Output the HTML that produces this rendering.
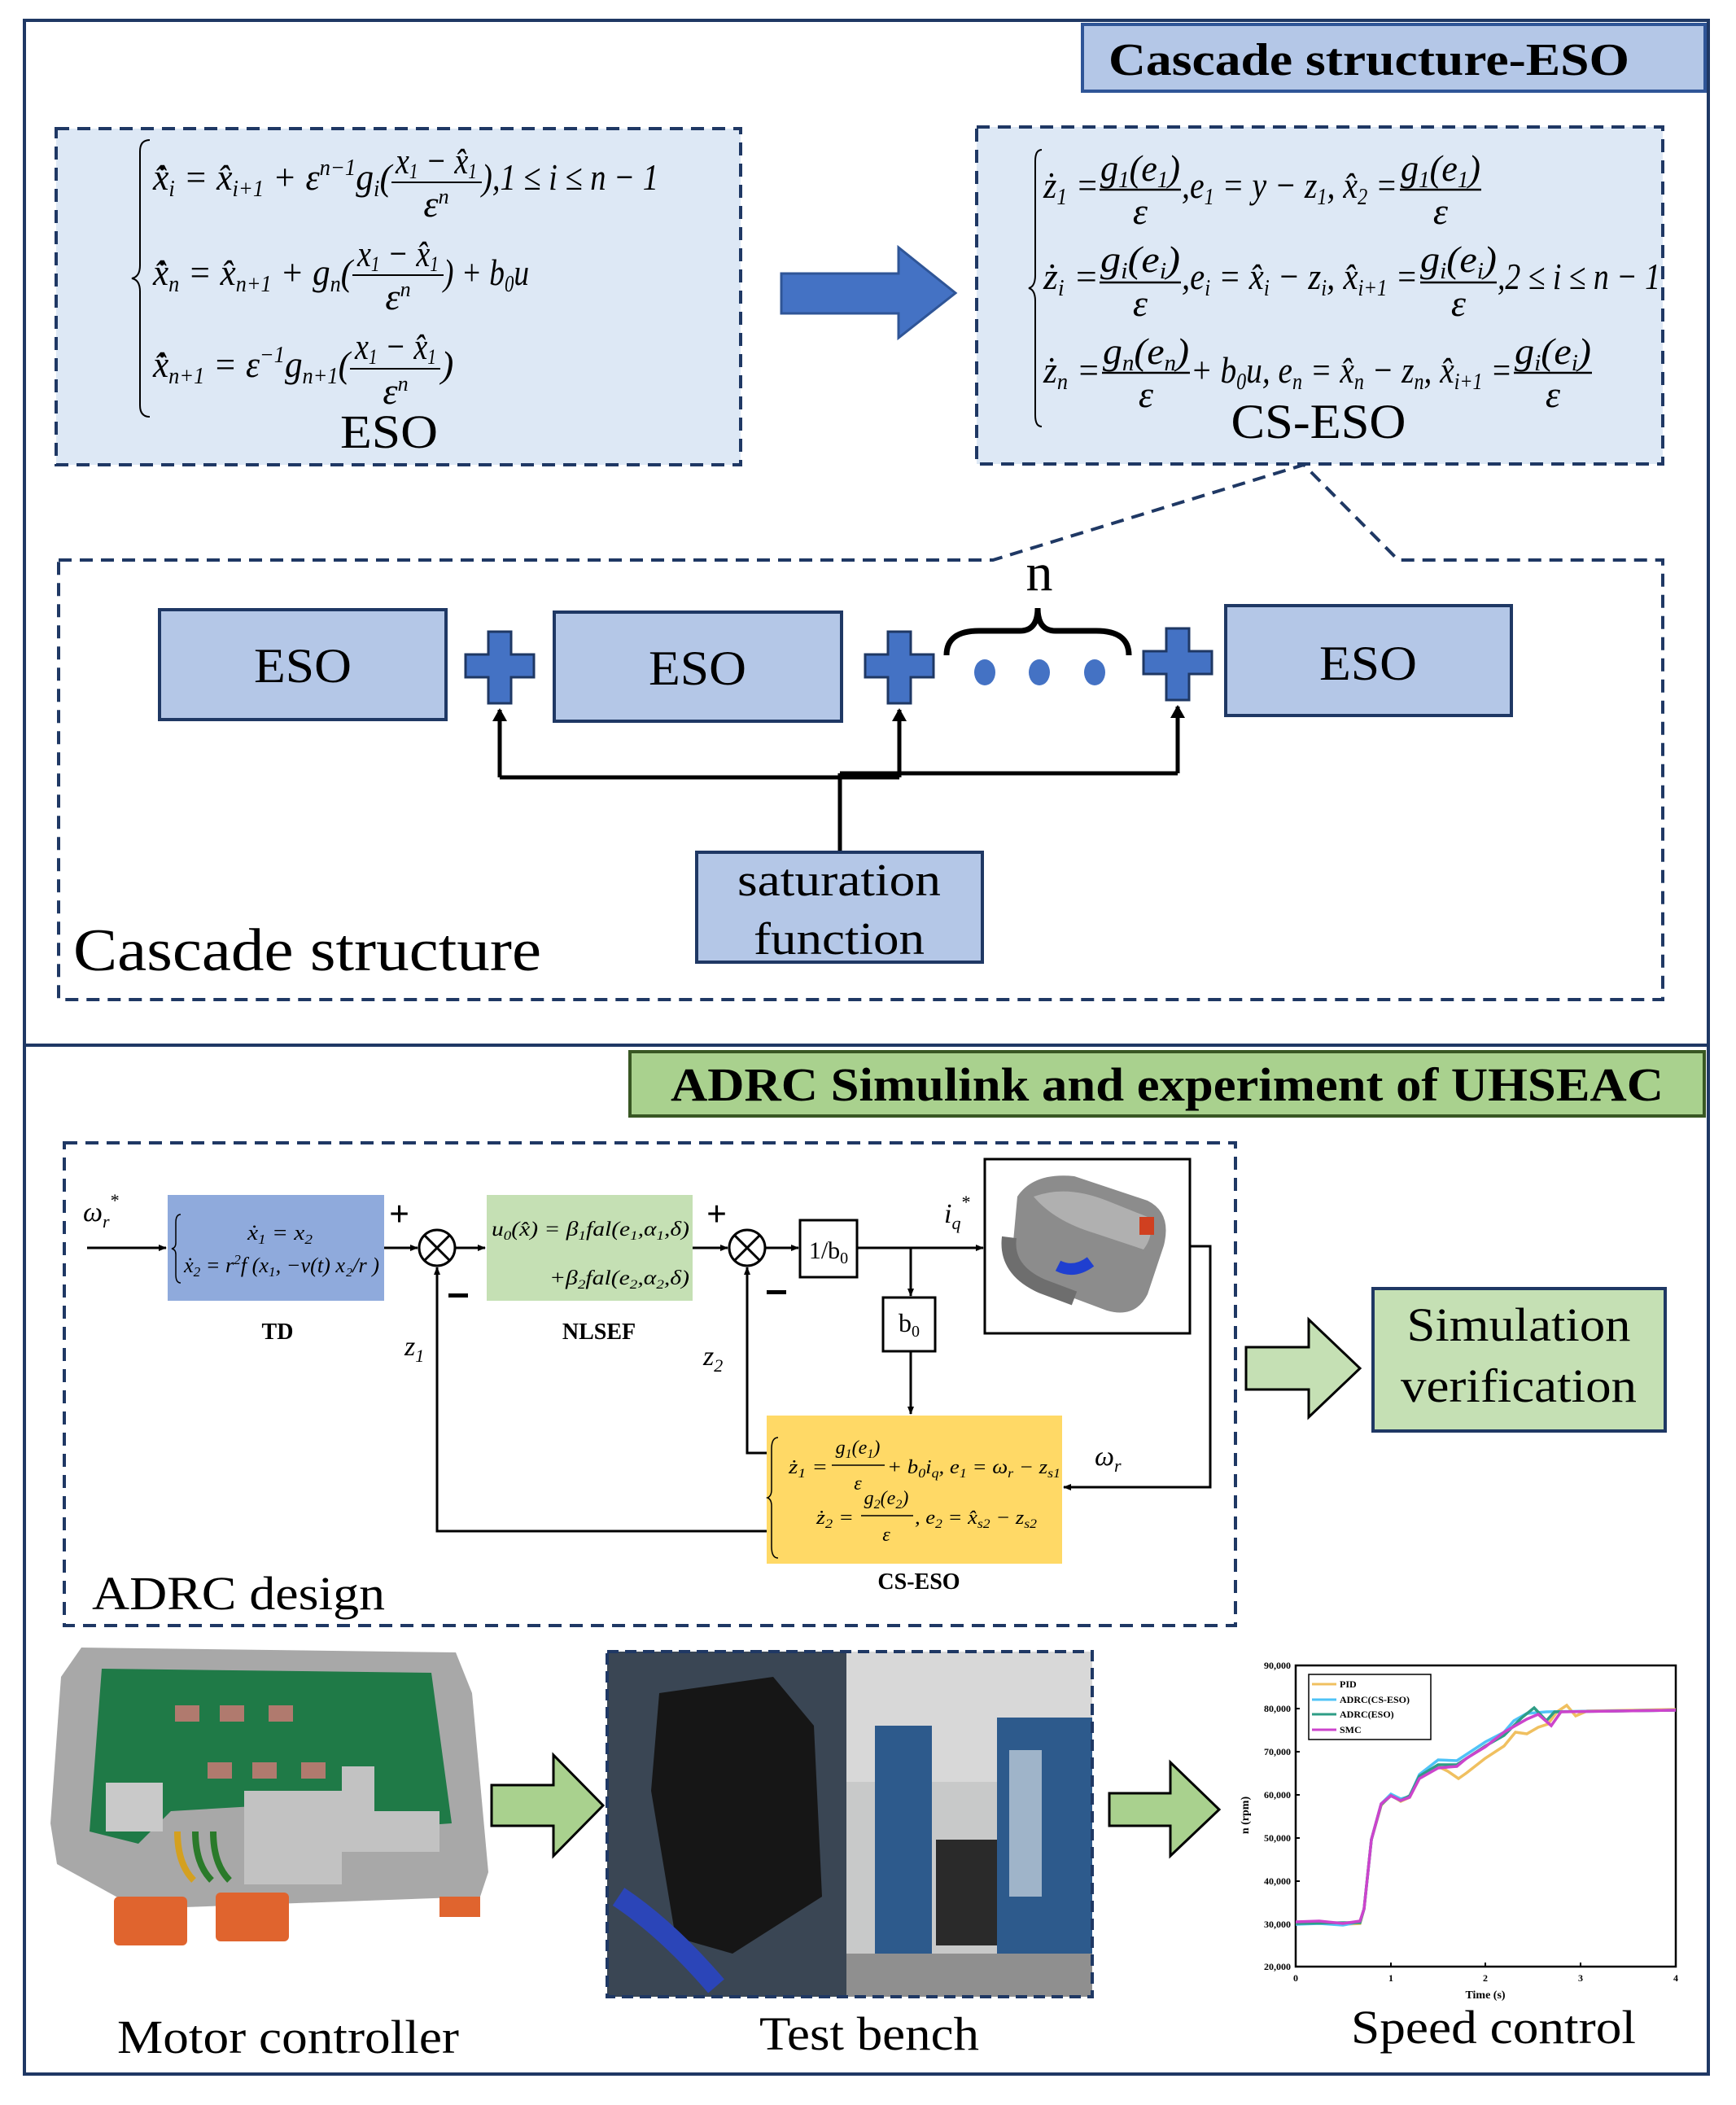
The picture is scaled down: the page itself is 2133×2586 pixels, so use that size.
<!DOCTYPE html>
<html><head><meta charset="utf-8"><style>
html,body{margin:0;padding:0;background:#fff;}
svg{display:block;}
.m{font-family:"Liberation Serif",serif;font-style:italic;}
.r{font-family:"Liberation Serif",serif;}
</style></head><body>
<svg width="2133" height="2586" viewBox="0 0 2133 2586" xmlns="http://www.w3.org/2000/svg">
<defs>
<marker id="ah" markerWidth="10" markerHeight="10" refX="9" refY="5" orient="auto" markerUnits="userSpaceOnUse"><path d="M0,1 L10,5 L0,9 z" fill="#000"/></marker>
<marker id="ah2" markerWidth="16" markerHeight="18" refX="14" refY="9" orient="auto" markerUnits="userSpaceOnUse"><path d="M0,0 L16,9 L0,18 z" fill="#000"/></marker>
</defs>
<rect width="2133" height="2586" fill="#fff"/>
<!-- outer boxes -->
<rect x="30" y="25" width="2069" height="1259" fill="none" stroke="#1f3864" stroke-width="4"/>
<rect x="30" y="1284" width="2069" height="1264" fill="none" stroke="#1f3864" stroke-width="4"/>
<!-- title 1 -->
<rect x="1330" y="30" width="765" height="82" fill="#b4c7e7" stroke="#2f5597" stroke-width="4"/>
<text x="1682" y="92" text-anchor="middle" class="r" font-weight="bold" font-size="56" textLength="640" lengthAdjust="spacingAndGlyphs">Cascade structure-ESO</text>

<!-- ESO box -->
<rect x="69" y="158" width="841" height="413" fill="#dde8f5" stroke="#1f3864" stroke-width="4" stroke-dasharray="16,10"/>
<path d="M184,172 q-12,0 -12,14 v140 q0,14 -10,16 q10,2 10,16 v140 q0,14 12,14" fill="none" stroke="#000" stroke-width="2"/>
<g class="m" font-size="46" fill="#000">
<text x="188" y="233" textLength="293" lengthAdjust="spacingAndGlyphs">x̂̇<tspan font-size="28" dy="8">i</tspan><tspan dy="-8"> = x̂</tspan><tspan font-size="28" dy="8">i+1</tspan><tspan dy="-8"> + ε</tspan><tspan font-size="28" dy="-18">n−1</tspan><tspan dy="18">g</tspan><tspan font-size="28" dy="8">i</tspan><tspan dy="-8">(</tspan></text>
<text x="536" y="213" text-anchor="middle" textLength="100" lengthAdjust="spacingAndGlyphs">x<tspan font-size="26" dy="6">1</tspan><tspan dy="-6"> − x̂</tspan><tspan font-size="26" dy="6">1</tspan></text>
<line x1="481" y1="224" x2="592" y2="224" stroke="#000" stroke-width="2"/>
<text x="536" y="266" text-anchor="middle">ε<tspan font-size="26" dy="-16">n</tspan></text>
<text x="592" y="233" textLength="217" lengthAdjust="spacingAndGlyphs">),1 ≤ i ≤ n − 1</text>

<text x="188" y="350" textLength="245" lengthAdjust="spacingAndGlyphs">x̂̇<tspan font-size="28" dy="8">n</tspan><tspan dy="-8"> = x̂</tspan><tspan font-size="28" dy="8">n+1</tspan><tspan dy="-8"> + g</tspan><tspan font-size="28" dy="8">n</tspan><tspan dy="-8">(</tspan></text>
<text x="489" y="327" text-anchor="middle" textLength="100" lengthAdjust="spacingAndGlyphs">x<tspan font-size="26" dy="6">1</tspan><tspan dy="-6"> − x̂</tspan><tspan font-size="26" dy="6">1</tspan></text>
<line x1="433" y1="338" x2="545" y2="338" stroke="#000" stroke-width="2"/>
<text x="489" y="380" text-anchor="middle">ε<tspan font-size="26" dy="-16">n</tspan></text>
<text x="545" y="350" textLength="105" lengthAdjust="spacingAndGlyphs">) + b<tspan font-size="28" dy="8">0</tspan><tspan dy="-8">u</tspan></text>

<text x="188" y="463" textLength="242" lengthAdjust="spacingAndGlyphs">x̂̇<tspan font-size="28" dy="8">n+1</tspan><tspan dy="-8"> = ε</tspan><tspan font-size="28" dy="-18">−1</tspan><tspan dy="18">g</tspan><tspan font-size="28" dy="8">n+1</tspan><tspan dy="-8">(</tspan></text>
<text x="486" y="441" text-anchor="middle" textLength="100" lengthAdjust="spacingAndGlyphs">x<tspan font-size="26" dy="6">1</tspan><tspan dy="-6"> − x̂</tspan><tspan font-size="26" dy="6">1</tspan></text>
<line x1="430" y1="453" x2="541" y2="453" stroke="#000" stroke-width="2"/>
<text x="486" y="496" text-anchor="middle">ε<tspan font-size="26" dy="-16">n</tspan></text>
<text x="542" y="463">)</text>
</g>
<text x="478" y="550" text-anchor="middle" class="r" font-size="58" textLength="120" lengthAdjust="spacingAndGlyphs">ESO</text>

<!-- big arrow -->
<path d="M960,336 H1104 V304 L1174,360 L1104,415 V385 H960 z" fill="#4472c4" stroke="#2f5597" stroke-width="3"/>

<!-- CS-ESO box -->
<rect x="1200" y="156" width="843" height="414" fill="#dde8f5" stroke="#1f3864" stroke-width="4" stroke-dasharray="16,10"/>
<path d="M1280,184 q-8,0 -8,14 v140 q0,14 -8,16 q8,2 8,16 v140 q0,14 8,14" fill="none" stroke="#000" stroke-width="2"/>
<g class="m" font-size="46" fill="#000">
<text x="1282" y="243" textLength="68" lengthAdjust="spacingAndGlyphs">ż<tspan font-size="28" dy="8">1</tspan><tspan dy="-8"> =</tspan></text>
<text x="1401" y="222" text-anchor="middle" textLength="98" lengthAdjust="spacingAndGlyphs">g<tspan font-size="28" dy="8">1</tspan><tspan dy="-8">(e</tspan><tspan font-size="28" dy="8">1</tspan><tspan dy="-8">)</tspan></text>
<line x1="1351" y1="233" x2="1451" y2="233" stroke="#000" stroke-width="2.5"/>
<text x="1401" y="275" text-anchor="middle">ε</text>
<text x="1452" y="243" textLength="265" lengthAdjust="spacingAndGlyphs">,e<tspan font-size="28" dy="8">1</tspan><tspan dy="-8"> = y − z</tspan><tspan font-size="28" dy="8">1</tspan><tspan dy="-8">, x̂</tspan><tspan font-size="28" dy="8">2</tspan><tspan dy="-8"> =</tspan></text>
<text x="1770" y="222" text-anchor="middle" textLength="98" lengthAdjust="spacingAndGlyphs">g<tspan font-size="28" dy="8">1</tspan><tspan dy="-8">(e</tspan><tspan font-size="28" dy="8">1</tspan><tspan dy="-8">)</tspan></text>
<line x1="1720" y1="233" x2="1820" y2="233" stroke="#000" stroke-width="2.5"/>
<text x="1770" y="275" text-anchor="middle">ε</text>

<text x="1282" y="355" textLength="68" lengthAdjust="spacingAndGlyphs">ż<tspan font-size="28" dy="8">i</tspan><tspan dy="-8"> =</tspan></text>
<text x="1401" y="334" text-anchor="middle" textLength="98" lengthAdjust="spacingAndGlyphs">g<tspan font-size="28" dy="8">i</tspan><tspan dy="-8">(e</tspan><tspan font-size="28" dy="8">i</tspan><tspan dy="-8">)</tspan></text>
<line x1="1351" y1="347" x2="1451" y2="347" stroke="#000" stroke-width="2.5"/>
<text x="1401" y="388" text-anchor="middle">ε</text>
<text x="1452" y="355" textLength="290" lengthAdjust="spacingAndGlyphs">,e<tspan font-size="28" dy="8">i</tspan><tspan dy="-8"> = x̂</tspan><tspan font-size="28" dy="8">i</tspan><tspan dy="-8"> − z</tspan><tspan font-size="28" dy="8">i</tspan><tspan dy="-8">, x̂</tspan><tspan font-size="28" dy="8">i+1</tspan><tspan dy="-8"> =</tspan></text>
<text x="1792" y="334" text-anchor="middle" textLength="94" lengthAdjust="spacingAndGlyphs">g<tspan font-size="28" dy="8">i</tspan><tspan dy="-8">(e</tspan><tspan font-size="28" dy="8">i</tspan><tspan dy="-8">)</tspan></text>
<line x1="1745" y1="347" x2="1839" y2="347" stroke="#000" stroke-width="2.5"/>
<text x="1792" y="388" text-anchor="middle">ε</text>
<text x="1840" y="355" textLength="200" lengthAdjust="spacingAndGlyphs">,2 ≤ i ≤ n − 1</text>

<text x="1282" y="470" textLength="70" lengthAdjust="spacingAndGlyphs">ż<tspan font-size="28" dy="8">n</tspan><tspan dy="-8"> =</tspan></text>
<text x="1408" y="447" text-anchor="middle" textLength="106" lengthAdjust="spacingAndGlyphs">g<tspan font-size="28" dy="8">n</tspan><tspan dy="-8">(e</tspan><tspan font-size="28" dy="8">n</tspan><tspan dy="-8">)</tspan></text>
<line x1="1354" y1="458" x2="1462" y2="458" stroke="#000" stroke-width="2.5"/>
<text x="1408" y="500" text-anchor="middle">ε</text>
<text x="1463" y="470" textLength="395" lengthAdjust="spacingAndGlyphs">+ b<tspan font-size="28" dy="8">0</tspan><tspan dy="-8">u, e</tspan><tspan font-size="28" dy="8">n</tspan><tspan dy="-8"> = x̂</tspan><tspan font-size="28" dy="8">n</tspan><tspan dy="-8"> − z</tspan><tspan font-size="28" dy="8">n</tspan><tspan dy="-8">, x̂</tspan><tspan font-size="28" dy="8">i+1</tspan><tspan dy="-8"> =</tspan></text>
<text x="1908" y="447" text-anchor="middle" textLength="94" lengthAdjust="spacingAndGlyphs">g<tspan font-size="28" dy="8">i</tspan><tspan dy="-8">(e</tspan><tspan font-size="28" dy="8">i</tspan><tspan dy="-8">)</tspan></text>
<line x1="1860" y1="458" x2="1956" y2="458" stroke="#000" stroke-width="2.5"/>
<text x="1908" y="500" text-anchor="middle">ε</text>
</g>
<text x="1620" y="538" text-anchor="middle" class="r" font-size="60" textLength="215" lengthAdjust="spacingAndGlyphs">CS-ESO</text>

<!-- cascade structure dashed -->
<path d="M72,688 H1220 L1602,571 L1718,688 H2043 V1228 H72 z" fill="none" stroke="#1f3864" stroke-width="4" stroke-dasharray="16,10"/>
<g fill="#b4c7e7" stroke="#1f3864" stroke-width="4">
<rect x="196" y="749" width="352" height="135"/>
<rect x="681" y="752" width="353" height="134"/>
<rect x="1506" y="744" width="351" height="135"/>
</g>
<g class="r" font-size="60" text-anchor="middle">
<text x="372" y="838" textLength="120" lengthAdjust="spacingAndGlyphs">ESO</text>
<text x="857" y="841" textLength="120" lengthAdjust="spacingAndGlyphs">ESO</text>
<text x="1681" y="835" textLength="120" lengthAdjust="spacingAndGlyphs">ESO</text>
</g>
<!-- plus signs -->
<g fill="#4472c4" stroke="#1f3864" stroke-width="3">
<path d="M600,776 h28 v28 h28 v28 h-28 v32 h-28 v-32 h-28 v-28 h28 z"/>
<path d="M1091,776 h28 v28 h28 v28 h-28 v32 h-28 v-32 h-28 v-28 h28 z"/>
<path d="M1433,772 h28 v28 h28 v28 h-28 v32 h-28 v-32 h-28 v-28 h28 z"/>
</g>
<g fill="#4472c4"><ellipse cx="1210" cy="826" rx="13" ry="16"/><ellipse cx="1277" cy="826" rx="13" ry="16"/><ellipse cx="1345" cy="826" rx="13" ry="16"/></g>
<path d="M1163,805 q0,-30 40,-30 h50 q22,0 22,-28 q0,28 22,28 h50 q40,0 40,30" fill="none" stroke="#000" stroke-width="7"/>
<text x="1277" y="725" text-anchor="middle" class="r" font-size="66">n</text>
<!-- connectors -->
<g fill="none" stroke="#000" stroke-width="5">
<path d="M614,955 V872" marker-end="url(#ah2)"/>
<path d="M1105,955 V872" marker-end="url(#ah2)"/>
<path d="M1447,950 V868" marker-end="url(#ah2)"/>
<path d="M614,955 H1105 M1032,950 H1447 M1032,950 V1047"/>
</g>
<rect x="856" y="1047" width="351" height="135" fill="#b4c7e7" stroke="#1f3864" stroke-width="4"/>
<text x="1031" y="1100" text-anchor="middle" class="r" font-size="56" textLength="250" lengthAdjust="spacingAndGlyphs">saturation</text>
<text x="1031" y="1172" text-anchor="middle" class="r" font-size="56" textLength="210" lengthAdjust="spacingAndGlyphs">function</text>
<text x="90" y="1192" class="r" font-size="74" textLength="575" lengthAdjust="spacingAndGlyphs">Cascade structure</text>

<!-- bottom section -->
<rect x="774" y="1292" width="1320" height="79" fill="#a9d18e" stroke="#385723" stroke-width="4"/>
<text x="1434" y="1352" text-anchor="middle" class="r" font-weight="bold" font-size="58" textLength="1220" lengthAdjust="spacingAndGlyphs">ADRC Simulink and experiment of UHSEAC</text>

<rect x="79" y="1404" width="1439" height="593" fill="none" stroke="#1f3864" stroke-width="4" stroke-dasharray="16,10"/>
<!-- TD -->
<rect x="206" y="1468" width="266" height="130" fill="#8faadc"/>
<path d="M222,1492 q-6,0 -6,10 v25 q0,6 -5,7 q5,1 5,7 v25 q0,10 6,10" fill="none" stroke="#000" stroke-width="1.5"/>
<g class="m" font-size="26">
<text x="344" y="1523" text-anchor="middle" textLength="80" lengthAdjust="spacingAndGlyphs">ẋ<tspan font-size="17" dy="5">1</tspan><tspan dy="-5"> = x</tspan><tspan font-size="17" dy="5">2</tspan></text>
<text x="226" y="1563" textLength="240" lengthAdjust="spacingAndGlyphs">ẋ<tspan font-size="17" dy="5">2</tspan><tspan dy="-5"> = r</tspan><tspan font-size="17" dy="-10">2</tspan><tspan dy="10">f (x</tspan><tspan font-size="17" dy="5">1</tspan><tspan dy="-5">, −v(t) x₂/r )</tspan></text>
</g>
<text x="341" y="1645" text-anchor="middle" class="r" font-weight="bold" font-size="28">TD</text>
<!-- sum1 -->
<circle cx="537" cy="1533" r="22" fill="#fff" stroke="#000" stroke-width="3"/>
<path d="M521,1517 L553,1549 M553,1517 L521,1549" stroke="#000" stroke-width="3"/>
<!-- NLSEF -->
<rect x="598" y="1468" width="253" height="130" fill="#c5e0b4"/>
<g class="m" font-size="25">
<text x="604" y="1518" textLength="243" lengthAdjust="spacingAndGlyphs">u<tspan font-size="16" dy="5">0</tspan><tspan dy="-5">(x̂) = β</tspan><tspan font-size="16" dy="5">1</tspan><tspan dy="-5">fal(e</tspan><tspan font-size="16" dy="5">1</tspan><tspan dy="-5">,α</tspan><tspan font-size="16" dy="5">1</tspan><tspan dy="-5">,δ)</tspan></text>
<text x="847" y="1578" text-anchor="end" textLength="172" lengthAdjust="spacingAndGlyphs">+β<tspan font-size="16" dy="5">2</tspan><tspan dy="-5">fal(e</tspan><tspan font-size="16" dy="5">2</tspan><tspan dy="-5">,α</tspan><tspan font-size="16" dy="5">2</tspan><tspan dy="-5">,δ)</tspan></text>
</g>
<text x="736" y="1645" text-anchor="middle" class="r" font-weight="bold" font-size="28">NLSEF</text>
<!-- sum2 -->
<circle cx="918" cy="1533" r="22" fill="#fff" stroke="#000" stroke-width="3"/>
<path d="M902,1517 L934,1549 M934,1517 L902,1549" stroke="#000" stroke-width="3"/>
<rect x="983" y="1499" width="70" height="70" fill="#fff" stroke="#000" stroke-width="3"/>
<text x="1018" y="1546" text-anchor="middle" class="r" font-size="30">1/b<tspan font-size="20" dy="6">0</tspan></text>
<rect x="1085" y="1594" width="64" height="66" fill="#fff" stroke="#000" stroke-width="3"/>
<text x="1117" y="1636" text-anchor="middle" class="r" font-size="32">b<tspan font-size="20" dy="6">0</tspan></text>
<!-- motor picture -->
<rect x="1210" y="1424" width="252" height="214" fill="#fff" stroke="#000" stroke-width="3"/>
<g>
<path d="M1250,1470 q20,-30 70,-25 l90,30 q30,15 20,55 l-20,60 q-15,30 -50,20 l-80,-30 q-40,-20 -35,-55 z" fill="#8c8c8c"/>
<path d="M1270,1470 q40,-15 90,5 l50,20 q10,20 -5,40 l-60,-20 q-50,-15 -75,-45 z" fill="#b0b0b0"/>
<path d="M1240,1520 q-5,40 40,60 l40,15" fill="none" stroke="#6e6e6e" stroke-width="18"/>
<path d="M1300,1555 q20,10 40,-5" fill="none" stroke="#1f3fd0" stroke-width="14"/>
<rect x="1400" y="1495" width="18" height="22" fill="#d04020"/>
</g>
<!-- CS-ESO yellow -->
<rect x="942" y="1739" width="363" height="182" fill="#ffd966"/>
<path d="M956,1766 q-8,0 -8,14 v50 q0,8 -5,10 q5,2 5,10 v50 q0,14 8,14" fill="none" stroke="#000" stroke-width="1.5"/>
<g class="m" font-size="24">
<text x="969" y="1810" textLength="48" lengthAdjust="spacingAndGlyphs">ż<tspan font-size="16" dy="5">1</tspan><tspan dy="-5"> =</tspan></text>
<text x="1054" y="1786" text-anchor="middle">g<tspan font-size="16" dy="5">1</tspan><tspan dy="-5">(e</tspan><tspan font-size="16" dy="5">1</tspan><tspan dy="-5">)</tspan></text>
<line x1="1022" y1="1800" x2="1087" y2="1800" stroke="#000" stroke-width="1.5"/>
<text x="1054" y="1830" text-anchor="middle">ε</text>
<text x="1090" y="1810" textLength="213" lengthAdjust="spacingAndGlyphs">+ b<tspan font-size="16" dy="5">0</tspan><tspan dy="-5">i</tspan><tspan font-size="16" dy="5">q</tspan><tspan dy="-5">, e</tspan><tspan font-size="16" dy="5">1</tspan><tspan dy="-5"> = ω</tspan><tspan font-size="16" dy="5">r</tspan><tspan dy="-5"> − z</tspan><tspan font-size="16" dy="5">s1</tspan></text>
<text x="1003" y="1872" textLength="46" lengthAdjust="spacingAndGlyphs">ż<tspan font-size="16" dy="5">2</tspan><tspan dy="-5"> =</tspan></text>
<text x="1089" y="1848" text-anchor="middle">g<tspan font-size="16" dy="5">2</tspan><tspan dy="-5">(e</tspan><tspan font-size="16" dy="5">2</tspan><tspan dy="-5">)</tspan></text>
<line x1="1058" y1="1862" x2="1122" y2="1862" stroke="#000" stroke-width="1.5"/>
<text x="1089" y="1893" text-anchor="middle">ε</text>
<text x="1124" y="1872" textLength="150" lengthAdjust="spacingAndGlyphs">, e<tspan font-size="16" dy="5">2</tspan><tspan dy="-5"> = x̂</tspan><tspan font-size="16" dy="5">s2</tspan><tspan dy="-5"> − z</tspan><tspan font-size="16" dy="5">s2</tspan></text>
</g>
<text x="1129" y="1952" text-anchor="middle" class="r" font-weight="bold" font-size="28">CS-ESO</text>
<!-- wires -->
<g fill="none" stroke="#000" stroke-width="3">
<path d="M107,1533 H204" marker-end="url(#ah)"/>
<path d="M472,1533 H513" marker-end="url(#ah)"/>
<path d="M559,1533 H596" marker-end="url(#ah)"/>
<path d="M851,1533 H894" marker-end="url(#ah)"/>
<path d="M940,1533 H981" marker-end="url(#ah)"/>
<path d="M1053,1533 H1208" marker-end="url(#ah)"/>
<path d="M1119,1533 V1592" marker-end="url(#ah)"/>
<path d="M1119,1660 V1737" marker-end="url(#ah)"/>
<path d="M1462,1531 H1487 V1827 H1307" marker-end="url(#ah)"/>
<path d="M942,1881 H537 V1557" marker-end="url(#ah)"/>
<path d="M942,1785 H918 V1557" marker-end="url(#ah)"/>
</g>
<g class="m" font-size="34">
<text x="102" y="1500">ω<tspan font-size="22" dy="8">r</tspan><tspan font-size="22" dy="-26">*</tspan></text>
<text x="1160" y="1502">i<tspan font-size="22" dy="8">q</tspan><tspan font-size="22" dy="-26">*</tspan></text>
<text x="1345" y="1800">ω<tspan font-size="22" dy="8">r</tspan></text>
<text x="497" y="1665">z<tspan font-size="22" dy="8">1</tspan></text>
<text x="864" y="1677">z<tspan font-size="22" dy="8">2</tspan></text>
</g>
<g class="r" font-size="44" font-weight="bold">
<text x="478" y="1506">+</text><text x="868" y="1506">+</text>
<rect x="551" y="1589" width="24" height="5" fill="#000"/><rect x="942" y="1585" width="24" height="5" fill="#000"/>
</g>
<text x="113" y="1977" class="r" font-size="58" textLength="360" lengthAdjust="spacingAndGlyphs">ADRC design</text>

<!-- simulation arrow & box -->
<path d="M1531,1655 H1608 V1621 L1671,1681 L1608,1741 V1707 H1531 z" fill="#c5e0b4" stroke="#000" stroke-width="3"/>
<rect x="1687" y="1583" width="359" height="175" fill="#c5e0b4" stroke="#1f3864" stroke-width="4"/>
<text x="1866" y="1647" text-anchor="middle" class="r" font-size="58" textLength="275" lengthAdjust="spacingAndGlyphs">Simulation</text>
<text x="1866" y="1722" text-anchor="middle" class="r" font-size="58" textLength="290" lengthAdjust="spacingAndGlyphs">verification</text>

<!-- motor controller photo -->
<g>
<path d="M100,2024 L560,2030 L580,2080 L600,2300 L590,2330 L170,2345 L70,2290 L62,2240 L75,2060 z" fill="#a8a8a8"/>
<path d="M125,2050 L530,2055 L555,2240 L410,2250 L380,2215 L210,2225 L170,2265 L110,2250 z" fill="#1f7a47"/>
<rect x="130" y="2190" width="70" height="60" fill="#c9c9c9"/>
<path d="M300,2200 h120 v-30 h40 v55 h80 v50 h-120 v40 h-120 z" fill="#c2c2c2"/>
<g fill="#b07a6e"><rect x="215" y="2095" width="30" height="20"/><rect x="270" y="2095" width="30" height="20"/><rect x="330" y="2095" width="30" height="20"/><rect x="255" y="2165" width="30" height="20"/><rect x="310" y="2165" width="30" height="20"/><rect x="370" y="2165" width="30" height="20"/></g>
<g fill="#e0642e"><rect x="140" y="2330" width="90" height="60" rx="6"/><rect x="265" y="2325" width="90" height="60" rx="6"/><rect x="540" y="2330" width="50" height="25"/></g>
<path d="M240,2250 q0,40 20,60 M262,2250 q0,40 20,60" stroke="#2a7a2a" stroke-width="8" fill="none"/>
<path d="M218,2250 q0,40 20,60" stroke="#d4a020" stroke-width="8" fill="none"/>
</g>
<text x="354" y="2522" text-anchor="middle" class="r" font-size="58" textLength="420" lengthAdjust="spacingAndGlyphs">Motor controller</text>
<path d="M604,2193 H680 V2156 L741,2218 L680,2280 V2243 H604 z" fill="#a9d18e" stroke="#000" stroke-width="3"/>

<!-- test bench photo -->
<g>
<rect x="746" y="2029" width="596" height="424" fill="#c8c9c9"/>
<rect x="746" y="2029" width="294" height="424" fill="#3a4654"/>
<rect x="1040" y="2029" width="302" height="160" fill="#d8d8d8"/>
<path d="M810,2080 L950,2060 L1000,2120 L1010,2330 L900,2400 L830,2380 L800,2200 z" fill="#161616"/>
<path d="M760,2330 q60,40 120,110" stroke="#2b45b8" stroke-width="26" fill="none"/>
<rect x="1075" y="2120" width="70" height="280" fill="#2d5a8c"/>
<rect x="1225" y="2110" width="117" height="300" fill="#2d5a8c"/>
<rect x="1240" y="2150" width="40" height="180" fill="#9fb4c9"/>
<rect x="1150" y="2260" width="75" height="130" fill="#2a2a2a"/>
<rect x="1040" y="2400" width="302" height="53" fill="#8f8f8f"/>
</g>
<rect x="746" y="2029" width="596" height="424" fill="none" stroke="#1f3864" stroke-width="4" stroke-dasharray="14,8"/>
<text x="1068" y="2518" text-anchor="middle" class="r" font-size="58" textLength="270" lengthAdjust="spacingAndGlyphs">Test bench</text>
<path d="M1363,2203 H1438 V2165 L1498,2223 L1438,2280 V2243 H1363 z" fill="#a9d18e" stroke="#000" stroke-width="3"/>

<!-- chart -->
<g class="r" font-weight="bold" font-size="12">
<rect x="1592" y="2046" width="467" height="370" fill="#fff" stroke="#000" stroke-width="2.5"/>
<g text-anchor="end">
<text x="1586" y="2050">90,000</text><text x="1586" y="2103">80,000</text><text x="1586" y="2156">70,000</text><text x="1586" y="2209">60,000</text><text x="1586" y="2262">50,000</text><text x="1586" y="2315">40,000</text><text x="1586" y="2368">30,000</text><text x="1586" y="2420">20,000</text>
</g>
<g text-anchor="middle"><text x="1592" y="2434">0</text><text x="1709" y="2434">1</text><text x="1825" y="2434">2</text><text x="1942" y="2434">3</text><text x="2059" y="2434">4</text>
<text x="1825" y="2455" font-size="14">Time (s)</text></g>
<text transform="translate(1534,2230) rotate(-90)" text-anchor="middle" font-size="14">n (rpm)</text>
<g stroke="#000" stroke-width="2"><path d="M1592,2099h5M1592,2152h5M1592,2205h5M1592,2258h5M1592,2311h5M1592,2363h5M1709,2416v-5M1825,2416v-5M1942,2416v-5"/></g>
<g fill="none" stroke-width="3.5">
<path stroke="#f0c060" d="M1592,2362 L1621,2363 L1650,2364 L1671,2363 L1676,2345 L1685,2260 L1697,2218 L1709,2205 L1721,2213 L1732,2208 L1744,2184 L1767,2170 L1779,2176 L1792,2185 L1802,2178 L1825,2160 L1848,2145 L1862,2128 L1876,2130 L1890,2122 L1902,2118 L1913,2103 L1925,2095 L1936,2108 L1950,2102 L2059,2100"/>
<path stroke="#4fc3f7" d="M1592,2364 L1621,2363 L1650,2365 L1671,2361 L1676,2345 L1685,2260 L1697,2216 L1709,2204 L1721,2210 L1732,2207 L1744,2180 L1767,2162 L1790,2163 L1825,2140 L1848,2128 L1860,2114 L1876,2105 L1900,2103 L2059,2101"/>
<path stroke="#2e9d86" d="M1592,2363 L1650,2362 L1671,2362 L1676,2345 L1685,2260 L1697,2217 L1709,2206 L1721,2212 L1732,2206 L1744,2182 L1767,2168 L1790,2168 L1825,2145 L1848,2132 L1870,2110 L1885,2098 L1900,2114 L1910,2103 L2059,2101"/>
<path stroke="#cc44cc" d="M1592,2361 L1621,2360 L1650,2363 L1671,2360 L1676,2345 L1685,2260 L1697,2216 L1709,2206 L1721,2212 L1732,2208 L1744,2185 L1767,2172 L1790,2170 L1802,2160 L1825,2146 L1848,2128 L1876,2112 L1890,2106 L1906,2120 L1918,2103 L2059,2101"/>
</g>
<rect x="1608" y="2057" width="150" height="80" fill="#fff" stroke="#000" stroke-width="1.5"/>
<g stroke-width="3"><path d="M1612,2069h30" stroke="#f0c060"/><path d="M1612,2088h30" stroke="#4fc3f7"/><path d="M1612,2106h30" stroke="#2e9d86"/><path d="M1612,2125h30" stroke="#cc44cc"/></g>
<g font-size="12"><text x="1646" y="2073">PID</text><text x="1646" y="2092">ADRC(CS-ESO)</text><text x="1646" y="2110">ADRC(ESO)</text><text x="1646" y="2129">SMC</text></g>
</g>
<text x="1835" y="2510" text-anchor="middle" class="r" font-size="58" textLength="350" lengthAdjust="spacingAndGlyphs">Speed control</text>
</svg>
</body></html>
